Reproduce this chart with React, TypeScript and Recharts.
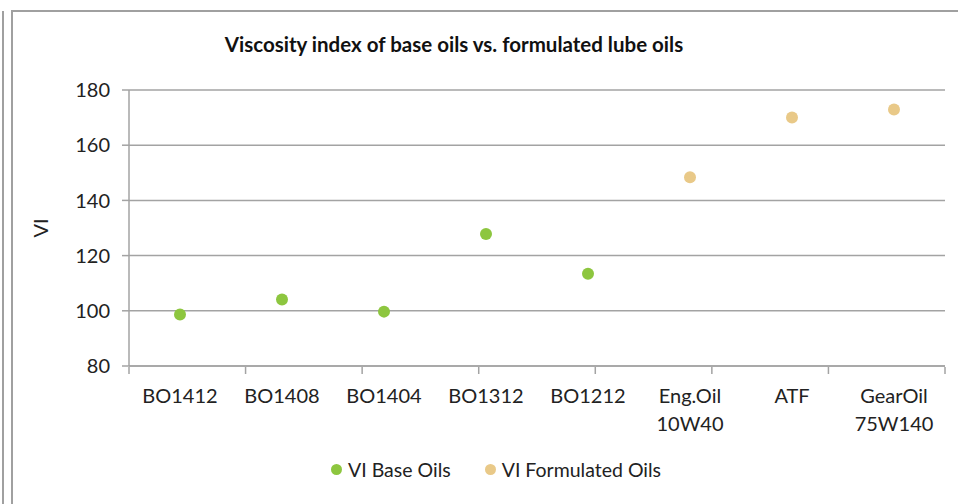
import {
  CartesianGrid,
  ComposedChart,
  Legend,
  Scatter,
  XAxis,
  YAxis,
} from "recharts";

const categories = [
  "BO1412",
  "BO1408",
  "BO1404",
  "BO1312",
  "BO1212",
  "Eng.Oil\n10W40",
  "ATF",
  "GearOil\n75W140",
];
const baseOilNames = ["BO1412", "BO1408", "BO1404", "BO1312", "BO1212"];
const baseOilVI = [98.7, 104.1, 99.7, 127.8, 113.4];
const formulatedNames = ["Eng.Oil\n10W40", "ATF", "GearOil\n75W140"];
const formulatedVI = [148.4, 170, 172.9];
const yTicks = [80, 100, 120, 140, 160, 180];

const FONT = "Lato, 'Open Sans', sans-serif";
const GREEN = "#8dc63f";
const TAN = "#e9c988";
const GRID = "#a3a3a3";

const chartData = categories.map((name) => ({ name }));
const baseData = baseOilNames.map((name, i) => ({ name, vi: baseOilVI[i] }));
const formulatedData = formulatedNames.map((name, i) => ({
  name,
  vi: formulatedVI[i],
}));
const edgeTicks = [...categories.map((_, i) => i), categories.length];

function CategoryTick(props: any) {
  const { x, y, payload } = props;
  const lines = String(payload.value).split("\n");
  return (
    <text x={x} y={y} textAnchor="middle" fill="#222" fontSize={20} fontFamily={FONT}>
      {lines.map((line, i) => (
        <tspan key={i} x={x} dy={i === 0 ? 29 : 28}>
          {line}
        </tspan>
      ))}
    </text>
  );
}

// edge axis only shows its tick marks
function NoLabel() {
  return <g />;
}

function Dot(color: string) {
  return (p: any) => <circle cx={p.cx} cy={p.cy} r={6} fill={color} />;
}

function LegendContent(props: any) {
  const { payload } = props;
  return (
    <div style={{ display: "flex", gap: 34, fontFamily: FONT, fontSize: 19.5, color: "#222" }}>
      {payload.map((item: any) => (
        <div key={item.value} style={{ display: "flex", alignItems: "center", gap: 6 }}>
          <span
            style={{
              width: 11,
              height: 11,
              borderRadius: "50%",
              background: item.color,
              display: "inline-block",
            }}
          />
          <span>{item.value}</span>
        </div>
      ))}
    </div>
  );
}

export default function App() {
  return (
    <div style={{ position: "absolute", left: 0, top: 0, width: 958, height: 504, background: "#fff", overflow: "hidden" }}>
      <div style={{ position: "absolute", left: 2, top: 11, height: 500, borderLeft: "2px solid #a0a0a0" }} />
      <div
        style={{
          position: "absolute",
          left: 11,
          top: 10,
          width: 960,
          height: 510,
          borderLeft: "2px solid #a0a0a0",
          borderTop: "2px solid #a0a0a0",
        }}
      />
      <div
        style={{
          position: "absolute",
          left: 0,
          top: 32,
          width: 908,
          textAlign: "center",
          fontFamily: FONT,
          fontWeight: 700,
          fontSize: 20.5,
          color: "#111",
        }}
      >
        Viscosity index of base oils vs. formulated lube oils
      </div>
      <div style={{ position: "absolute", left: 0, top: 0 }}>
        <ComposedChart
          width={958}
          height={504}
          data={chartData}
          margin={{ top: 90, right: 13, bottom: 113, left: 30 }}
        >
          <CartesianGrid vertical={false} stroke={GRID} strokeWidth={1.5} />
          <XAxis
            xAxisId="edges"
            type="number"
            domain={[0, categories.length]}
            ticks={edgeTicks}
            interval={0}
            tick={<NoLabel />}
            axisLine={false}
            tickLine={{ stroke: GRID, strokeWidth: 1.5 }}
            tickSize={7}
            height={1}
          />
          <XAxis
            dataKey="name"
            type="category"
            scale="band"
            allowDuplicatedCategory={false}
            interval={0}
            height={1}
            tickLine={false}
            axisLine={{ stroke: GRID, strokeWidth: 1.5 }}
            tick={<CategoryTick />}
          />
          <YAxis
            type="number"
            domain={[80, 180]}
            ticks={yTicks}
            interval={0}
            width={99}
            tickSize={7}
            tickMargin={12}
            axisLine={{ stroke: GRID, strokeWidth: 1.5 }}
            tickLine={{ stroke: GRID, strokeWidth: 1.5 }}
            tick={{ fill: "#222", fontSize: 20, fontFamily: FONT }}
            label={{
              value: "VI",
              angle: -90,
              position: "center",
              dx: -39,
              fill: "#222",
              fontSize: 20,
              fontFamily: FONT,
            }}
          />
          <Scatter
            name="VI Base Oils"
            data={baseData}
            dataKey="vi"
            fill={GREEN}
            shape={Dot(GREEN)}
            isAnimationActive={false}
          />
          <Scatter
            name="VI Formulated Oils"
            data={formulatedData}
            dataKey="vi"
            fill={TAN}
            shape={Dot(TAN)}
            isAnimationActive={false}
          />
          <Legend
            content={<LegendContent />}
            wrapperStyle={{ left: 331, top: 458, width: "auto", bottom: "auto" }}
          />
        </ComposedChart>
      </div>
    </div>
  );
}
